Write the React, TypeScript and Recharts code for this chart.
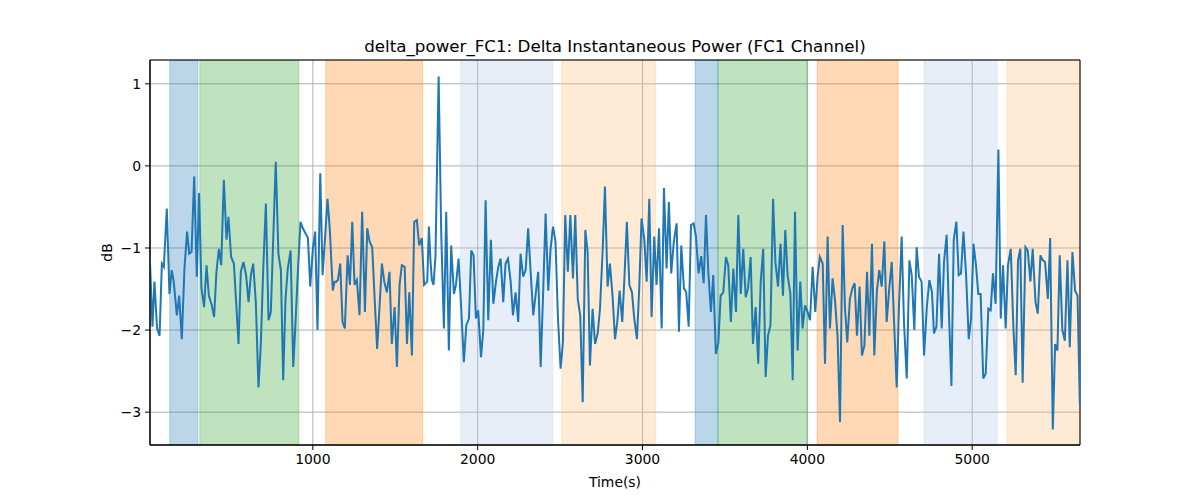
import React from 'react'
import {
  LineChart,
  Line,
  XAxis,
  YAxis,
  CartesianGrid,
  ReferenceArea,
} from 'recharts'

// sample times (s)
const time = [
  12, 27, 39, 55, 70, 84, 96, 114, 130, 144, 156, 175, 189, 205, 221, 237, 250, 264, 280, 296,
  310, 324, 340, 355, 369, 387, 401, 415, 430, 444, 460, 476, 488, 504, 521, 537, 549, 563,
  579, 595, 610, 624, 638, 654, 670, 684, 699, 715, 731, 745, 759, 775, 791, 806, 820, 834,
  848, 865, 881, 895, 909, 925, 939, 955, 970, 984, 1000, 1014, 1028, 1045, 1059, 1075, 1089, 1103,
  1121, 1132, 1142, 1152, 1166, 1180, 1194, 1211, 1225, 1239, 1253, 1267, 1283, 1299, 1316, 1330,
  1344, 1360, 1374, 1390, 1405, 1419, 1433, 1449, 1465, 1479, 1496, 1510, 1526, 1540, 1557, 1571,
  1585, 1601, 1615, 1631, 1645, 1661, 1675,
  1694, 1704, 1714, 1722, 1732, 1744, 1763, 1779, 1795, 1809, 1825, 1839, 1856, 1868, 1884, 1900,
  1916, 1931, 1947, 1961, 1975, 1989, 2003, 2020, 2034, 2048, 2064, 2080, 2095, 2111, 2125, 2139,
  2155, 2169, 2184, 2200, 2214, 2230,
  2246, 2260, 2276, 2291, 2306, 2323, 2337, 2353, 2367, 2382, 2398, 2412, 2428, 2442, 2457, 2472,
  2487, 2503, 2517, 2531, 2547, 2562, 2578, 2592, 2607, 2622, 2637, 2653, 2667, 2681, 2697, 2712,
  2728, 2742, 2759, 2772, 2788, 2802,
  2818, 2833, 2847, 2861, 2877, 2891, 2905, 2920, 2936, 2950, 2966, 2980, 2994, 3011, 3025, 3041,
  3055, 3071, 3085, 3100, 3116, 3130, 3146, 3160, 3174, 3190, 3207, 3221, 3235, 3251, 3265, 3280,
  3294, 3310, 3324, 3340, 3356,
  3371, 3385, 3399, 3415, 3429, 3445, 3460, 3474, 3490, 3506, 3520, 3536, 3551, 3567, 3581, 3596,
  3611, 3626, 3640, 3656, 3670, 3686, 3702, 3717, 3732, 3747, 3761, 3776, 3792, 3806, 3822, 3837,
  3852, 3866, 3880, 3897, 3911, 3925,
  3941, 3957, 3971, 3986, 4002, 4016, 4032, 4048, 4062, 4076, 4093, 4107, 4123, 4137, 4153, 4167,
  4183, 4198, 4214, 4228, 4242, 4258, 4273, 4287, 4301, 4317, 4331, 4346, 4362, 4376, 4392, 4406,
  4422, 4436, 4451, 4467, 4481,
  4497, 4512, 4526, 4542, 4556, 4572, 4586, 4603, 4619, 4633, 4649, 4663, 4677, 4693, 4708, 4724,
  4740, 4756, 4768, 4783, 4799, 4815, 4829, 4845, 4860, 4874, 4888, 4904, 4918, 4932, 4947, 4963,
  4979, 4993, 5008, 5023,
  5037, 5051, 5067, 5082, 5098, 5112, 5126, 5142, 5159, 5173, 5187, 5203, 5217, 5234, 5250, 5264,
  5278, 5292, 5306, 5323, 5337, 5353, 5367, 5384, 5398, 5414, 5428, 5442, 5459, 5473, 5489, 5503,
  5517, 5531, 5547, 5562, 5578, 5592, 5608, 5624, 5639, 5653,
]

// delta power (dB) at each time above
const deltaPower = [
  -1.17, -1.96, -1.41, -1.98, -2.07, -1.19, -1.23, -0.52, -1.56, -1.27, -1.41, -1.82, -1.58, -2.11, -1.25, -0.8, -1.07, -1.05, -0.13, -1.35,
  -0.33, -1.49, -1.72, -1.21, -1.58, -1.7, -1.84, -1.29, -1.01, -1.21, -0.17, -0.9, -0.62, -1.11, -1.19, -1.74, -2.17, -1.29,
  -1.17, -1.33, -1.66, -1.33, -1.19, -1.66, -2.7, -2.19, -1.25, -0.46, -1.88, -1.78, -0.92, 0.05, -1.07, -1.27, -2.61, -1.62,
  -1.25, -1.03, -2.45, -1.9, -1.29, -0.68, -0.76, -0.82, -0.88, -1.47, -1.01, -0.8, -2.0, -0.09, -1.33, -0.84, -0.4, -0.78,
  -1.52, -1.41, -1.41, -1.39, -1.19, -1.9, -1.98, -1.09, -1.45, -0.68, -1.45, -1.39, -1.82, -0.56, -1.78, -0.76,
  -0.92, -0.99, -1.58, -2.23, -1.7, -1.19, -1.41, -1.54, -1.29, -2.17, -1.72, -2.45, -1.45, -1.21, -1.23, -2.17,
  -1.54, -2.31, -0.68, -0.66, -0.97, -0.88, -1.45,
  -1.41, -0.74, -1.17, -1.39, -1.45, -1.09, 1.09, -0.84, -1.98, -0.56, -2.25, -0.97, -1.56, -1.45, -1.13, -1.74,
  -2.39, -1.94, -1.86, -1.03, -1.09, -1.86, -1.76, -2.33, -2.0, -0.42, -1.88, -0.9, -1.68, -1.41, -1.23, -1.13,
  -1.66, -1.19, -1.13, -1.41, -1.82, -1.54,
  -1.9, -1.07, -1.35, -1.27, -0.76, -1.35, -1.82, -1.54, -1.29, -2.45, -1.49, -0.58, -1.52, -1.01, -0.74, -0.92,
  -1.86, -2.47, -2.15, -0.6, -1.29, -0.6, -1.37, -0.6, -1.62, -1.82, -2.88, -0.78, -1.05, -2.43, -1.74, -2.17,
  -2.04, -1.74, -0.99, -0.25, -1.47, -1.19,
  -1.58, -2.11, -1.9, -1.52, -1.9, -1.33, -0.68, -1.45, -1.54, -1.86, -2.11, -1.49, -0.64, -0.9, -1.41, -0.4,
  -1.84, -0.86, -1.45, -0.76, -1.98, -0.27, -1.25, -0.44, -1.31, -0.92, -0.7, -2.02, -0.97, -1.49, -1.54, -1.96,
  -0.72, -0.7, -0.86, -1.31, -1.1,
  -1.43, -0.6, -1.29, -1.78, -1.33, -2.29, -2.15, -1.58, -1.54, -1.11, -1.21, -1.9, -1.25, -1.78, -0.6, -1.56,
  -1.01, -1.6, -1.49, -1.11, -2.17, -1.72, -2.41, -1.41, -1.01, -2.57, -2.07, -1.94, -0.4, -1.17, -1.47, -0.95,
  -1.58, -0.78, -1.33, -1.56, -2.61, -0.56,
  -2.25, -1.41, -1.98, -1.7, -1.78, -1.88, -1.23, -1.78, -1.35, -1.11, -1.19, -2.41, -0.86, -1.98, -1.37, -1.62,
  -2.07, -3.12, -0.72, -1.72, -2.15, -1.62, -1.49, -1.43, -2.07, -1.47, -2.31, -2.19, -1.29, -2.07, -0.95, -2.31,
  -1.52, -1.27, -1.47, -0.92, -1.9,
  -1.49, -1.17, -1.9, -2.7, -1.7, -0.86, -1.9, -2.59, -1.15, -1.33, -2.0, -0.99, -1.35, -1.41, -2.31, -1.74,
  -1.39, -1.54, -2.04, -1.96, -1.07, -1.98, -1.17, -0.84, -1.86, -2.68, -0.9, -0.68, -1.33, -1.31, -0.8, -1.33,
  -2.11, -1.86, -0.95, -1.21,
  -1.56, -1.56, -2.59, -2.53, -1.74, -1.76, -1.31, -1.68, 0.2, -1.86, -1.21, -1.98, -1.21, -1.01, -1.98, -2.55,
  -1.15, -1.01, -2.64, -0.99, -1.03, -1.41, -1.01, -1.66, -1.8, -1.09, -1.15, -1.17, -1.62, -0.88, -3.21, -2.17,
  -2.25, -1.09, -2.0, -2.13, -1.15, -2.21, -1.05, -1.52, -1.58, -2.9,
]

// shaded segments
const spanStart = [132, 314, 1078, 1897, 2510, 3319, 3458, 4059, 4708, 5212]
const spanEnd = [302, 915, 1667, 2455, 3080, 3458, 3998, 4550, 5151, 5654]
const spanColor = ['#1f77b4', '#2ca02c', '#ff7f0e', '#aec7e8', '#ffbb78', '#1f77b4', '#2ca02c', '#ff7f0e', '#aec7e8', '#ffbb78']

const xTicks = [1000, 2000, 3000, 4000, 5000]
const yTicks = [-3, -2, -1, 0, 1]

const X_MIN = 12
const X_MAX = 5654
const Y_MIN = -3.4
const Y_MAX = 1.29

const data = time.map((t, i) => ({ t, v: deltaPower[i] }))

const FONT = '"DejaVu Sans", sans-serif'
const fmt = (v: number) => (v < 0 ? '\u2212' + Math.abs(v) : String(v))

export default function App() {
  return (
    <div style={{ position: 'absolute', left: 0, top: 0, width: 1200, height: 500, background: '#fff', fontFamily: FONT }}>
      <div
        style={{
          position: 'absolute',
          left: 150,
          width: 930,
          top: 35,
          lineHeight: '22px',
          textAlign: 'center',
          fontSize: 16.7,
          color: '#000',
        }}
      >
        delta_power_FC1: Delta Instantaneous Power (FC1 Channel)
      </div>
      <LineChart
        width={1200}
        height={500}
        data={data}
        margin={{ top: 60, right: 120, bottom: 10, left: 64 }}
      >
        {spanStart.map((s, i) => (
          <ReferenceArea
            key={`span-${i}`}
            x1={s}
            x2={spanEnd[i]}
            fill={spanColor[i]}
            fillOpacity={0.3}
            stroke={spanColor[i]}
            strokeOpacity={0.3}
            ifOverflow="hidden"
          />
        ))}
        <CartesianGrid stroke="#b0b0b0" strokeWidth={1} />
        <XAxis
          dataKey="t"
          type="number"
          domain={[X_MIN, X_MAX]}
          ticks={xTicks}
          allowDataOverflow
          height={45}
          tickSize={5}
          tickMargin={4}
          stroke="#000"
          tick={{ fill: '#000', fontSize: 13.9, fontFamily: FONT }}
          label={{ value: 'Time(s)', position: 'insideBottom', offset: 3, fill: '#000', fontSize: 13.9, fontFamily: FONT }}
        />
        <YAxis
          type="number"
          domain={[Y_MIN, Y_MAX]}
          ticks={yTicks}
          allowDataOverflow
          width={86}
          tickSize={5}
          tickMargin={4}
          stroke="#000"
          tickFormatter={fmt}
          tick={{ fill: '#000', fontSize: 13.9, fontFamily: FONT }}
          label={{ value: 'dB', angle: -90, position: 'center', fill: '#000', fontSize: 13.9, fontFamily: FONT }}
        />
        <Line
          type="linear"
          dataKey="v"
          stroke="#1f77b4"
          strokeWidth={2}
          dot={false}
          isAnimationActive={false}
        />
        {/* axes frame */}
        <ReferenceArea
          x1={X_MIN}
          x2={X_MAX}
          y1={Y_MIN}
          y2={Y_MAX}
          fill="none"
          stroke="#000"
          strokeWidth={1}
          ifOverflow="visible"
        />
      </LineChart>
    </div>
  )
}
